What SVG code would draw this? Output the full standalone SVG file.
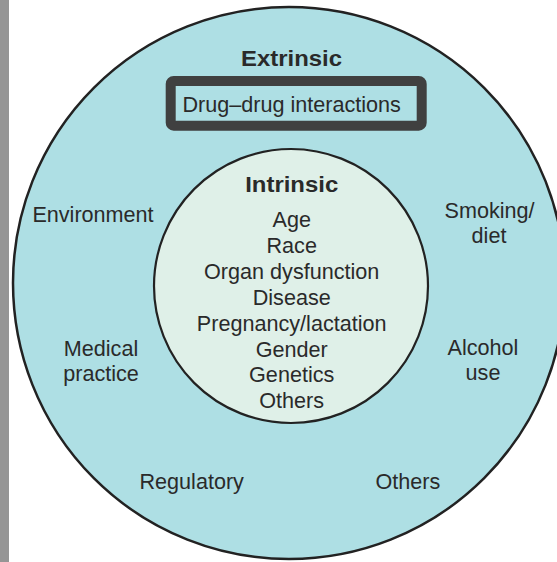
<svg xmlns="http://www.w3.org/2000/svg" width="557" height="562" viewBox="0 0 557 562">
<style>
  text { font-family: "Liberation Sans", Arial, sans-serif; fill: #2a2a2a; text-anchor: middle; }
  .lbl { font-size: 21.6px; }
  .title { font-size: 22.5px; font-weight: bold; }
</style>
<rect x="0" y="0" width="557" height="562" fill="#ffffff"/>
<rect x="0" y="0" width="9" height="562" fill="#959595"/>
<g id="extrinsic">
  <circle cx="289" cy="283" r="276" fill="#aedfe4" stroke="#222222" stroke-width="2.5"/>
  <text class="title" x="291.5" y="66" textLength="101" lengthAdjust="spacingAndGlyphs">Extrinsic</text>
</g>
<g id="ddi">
  <rect x="170.7" y="81" width="251" height="44.7" rx="3" fill="#aedfe4" stroke="#404040" stroke-width="10"/>
  <text class="lbl" x="291.7" y="111.7">Drug–drug interactions</text>
</g>
<g id="environment"><text class="lbl" x="93" y="221.7">Environment</text></g>
<g id="smoking"><text class="lbl" x="489.5" y="218.3">Smoking/</text><text class="lbl" x="489" y="243.3">diet</text></g>
<g id="medical"><text class="lbl" x="101" y="356">Medical</text><text class="lbl" x="101" y="381">practice</text></g>
<g id="alcohol"><text class="lbl" x="483" y="355">Alcohol</text><text class="lbl" x="483" y="380">use</text></g>
<g id="regulatory"><text class="lbl" x="191.7" y="488.5">Regulatory</text></g>
<g id="others-ext"><text class="lbl" x="407.8" y="489">Others</text></g>
<g id="intrinsic">
  <circle cx="291" cy="286" r="137" fill="#dff0e8" stroke="#222222" stroke-width="2.2"/>
  <text class="title" x="291.7" y="192" textLength="93" lengthAdjust="spacingAndGlyphs">Intrinsic</text>
  <text class="lbl" x="291.7" y="227">Age</text>
  <text class="lbl" x="291.7" y="253">Race</text>
  <text class="lbl" x="291.7" y="279">Organ dysfunction</text>
  <text class="lbl" x="291.7" y="305">Disease</text>
  <text class="lbl" x="291.7" y="331">Pregnancy/lactation</text>
  <text class="lbl" x="291.7" y="357">Gender</text>
  <text class="lbl" x="291.7" y="382">Genetics</text>
  <text class="lbl" x="291.7" y="408">Others</text>
</g>
<g id="connectors"></g>
</svg>
